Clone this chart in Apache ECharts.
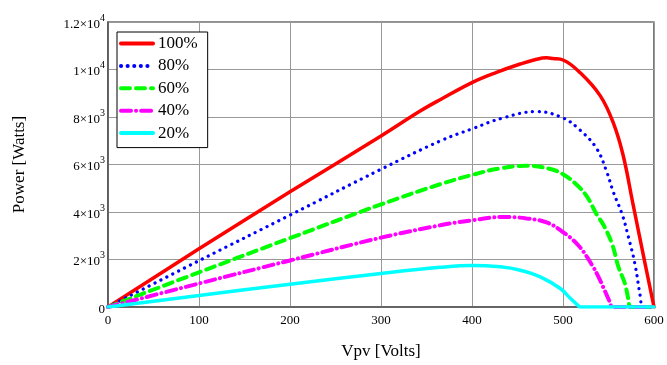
<!DOCTYPE html>
<html>
<head>
<meta charset="utf-8">
<script src="https://cdn.jsdelivr.net/npm/echarts@6/dist/echarts.min.js"></script>
<style>html,body{margin:0;padding:0;background:#fff}#c{width:667px;height:365px}</style>
</head>
<body>
<div id="c"></div>
<script>
// Series names
const seriesNames = ['100%', '80%', '60%', '40%', '20%'];
// Voltage / Power samples
const v100 = [0, 100, 200, 300, 343, 365, 400, 427, 453, 471, 482, 489, 500, 519, 541, 555, 566, 577, 588, 600];
const p100 = [0, 2450, 4850, 7200, 8250, 8730, 9450, 9880, 10230, 10430, 10490, 10460, 10400, 9860, 8890, 7780, 6400, 4320, 2240, 0];
const v80 = [0, 100, 200, 300, 365, 400, 434, 471, 500, 519, 537, 548, 555, 565, 572, 579, 585, 588, 600];
const p80 = [0, 1950, 3870, 5800, 6990, 7500, 7960, 8230, 7960, 7440, 6670, 5700, 4870, 3900, 2930, 1820, 440, 0, 0];
const v60 = [0, 100, 200, 300, 365, 400, 431, 460, 486, 500, 515, 526, 537, 545, 554, 561, 568, 572, 574, 600];
const p60 = [0, 1460, 2900, 4320, 5170, 5560, 5840, 5950, 5810, 5590, 5150, 4670, 3900, 3420, 2650, 1680, 990, 300, 0, 0];
const v40 = [0, 100, 200, 300, 365, 400, 434, 460, 482, 498, 517, 532, 539, 544, 552, 554, 600];
const p40 = [0, 990, 1960, 2920, 3440, 3650, 3790, 3730, 3560, 3210, 2590, 1760, 1270, 850, 160, 0, 0];
const v20 = [0, 100, 200, 300, 365, 400, 431, 453, 475, 497, 508, 517, 519, 600];
const p20 = [0, 480, 960, 1410, 1670, 1750, 1690, 1550, 1270, 780, 370, 50, 0, 0];
// Axis ticks
const xTicks = [0, 100, 200, 300, 400, 500, 600];
const yTickLabels = {0: ['0', ''], 2000: ['2×10', '3'], 4000: ['4×10', '3'], 6000: ['6×10', '3'], 8000: ['8×10', '3'], 10000: ['1×10', '4'], 12000: ['1.2×10', '4']};

const colors = ['#ff0000', '#0000ff', '#00ff00', '#ff00ff', '#00ffff'];
const dashes = ['solid', [0.1, 6.5], [9, 6], [10, 5, 0.1, 5], 'solid'];
const widths = [3.5, 3.2, 4, 4, 3.5];
const vs = [v100, v80, v60, v40, v20];
const ps = [p100, p80, p60, p40, p20];

const FONT = '"Liberation Serif", "DejaVu Serif", serif';
const chart = echarts.init(document.getElementById('c'), null, {renderer: 'canvas'});

const series = seriesNames.map((n, i) => ({
  name: n,
  type: 'line',
  data: vs[i].map((v, k) => [v, ps[i][k]]),
  showSymbol: false,
  symbol: 'none',
  smooth: 0.4,
  lineStyle: {color: colors[i], width: widths[i], type: dashes[i], cap: 'round'},
  itemStyle: {color: colors[i]},
  z: 2 + i,
  animation: false
}));

chart.setOption({
  animation: false,
  backgroundColor: '#fff',
  grid: {left: 108, right: 13, top: 22, bottom: 54.5, show: true, borderColor: '#222', borderWidth: 1.2},
  legend: {
    orient: 'vertical', left: 117, top: 32,
    backgroundColor: '#fff', borderColor: '#000', borderWidth: 1,
    padding: [3, 10, 6, 2],
    itemWidth: 32, itemHeight: 6, itemGap: 5.4,
    itemStyle: {opacity: 0},
    lineStyle: {width: 4},
    textStyle: {fontFamily: FONT, fontSize: 17, color: '#000'},
    data: seriesNames,
    z: 10
  },
  xAxis: {
    type: 'value', min: 0, max: 600, interval: 100,
    name: 'Vpv [Volts]', nameLocation: 'middle', nameGap: 36,
    nameTextStyle: {fontFamily: FONT, fontSize: 17, color: '#000'},
    axisLine: {show: true, onZero: false, lineStyle: {color: '#555', width: 1.5}},
    axisTick: {show: false},
    axisLabel: {fontFamily: FONT, fontSize: 13, color: '#000', margin: 7,
      formatter: v => xTicks.includes(v) ? String(v) : ''},
    splitLine: {show: true, lineStyle: {color: '#999', width: 1}}
  },
  yAxis: {
    type: 'value', min: 0, max: 12000, interval: 2000,
    name: 'Power [Watts]', nameLocation: 'middle', nameGap: 80,
    nameTextStyle: {fontFamily: FONT, fontSize: 17, color: '#000'},
    axisLine: {show: true, lineStyle: {color: '#555', width: 1.5}},
    axisTick: {show: false},
    axisLabel: {
      margin: 3,
      formatter: v => {
        const t = yTickLabels[v];
        if (!t) return '';
        return t[1] ? '{b|' + t[0] + '}{s|' + t[1] + '}' : '{b|' + t[0] + '}';
      },
      rich: {
        b: {fontFamily: FONT, fontSize: 13, color: '#000', lineHeight: 18, verticalAlign: 'bottom'},
        s: {fontFamily: FONT, fontSize: 10, color: '#000', lineHeight: 10, verticalAlign: 'top'}
      }
    },
    splitLine: {show: true, lineStyle: {color: '#999', width: 1}}
  },
  series: series
});
</script>
</body>
</html>
